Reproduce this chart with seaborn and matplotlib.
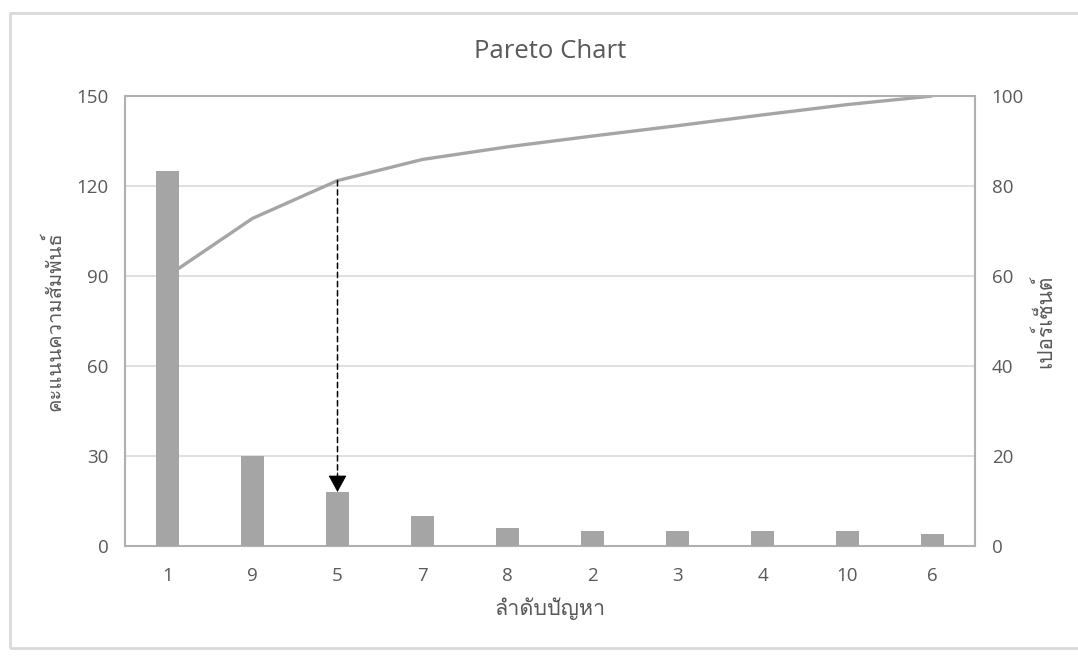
import numpy as np
import matplotlib
matplotlib.use("Agg")
import matplotlib.pyplot as plt
from matplotlib import font_manager
from matplotlib.ft2font import FT2Font
from matplotlib.patches import Rectangle
import seaborn as sns

# Problem ranks in Pareto order
categories = ["1", "9", "5", "7", "8", "2", "3", "4", "10", "6"]
# Relationship score per problem (left axis)
scores = [125, 30, 18, 10, 6, 5, 5, 5, 5, 4]
# Cumulative percentage (right axis)
cum_pct = [60, 72.8, 81.2, 85.9, 88.7, 91.1, 93.4, 95.8, 98.1, 100]
left_ticks = [0, 30, 60, 90, 120, 150]
right_ticks = [0, 20, 40, 60, 80, 100]

title = "Pareto Chart"
xlabel = "ลำดับปัญหา"
ylabel_left = "คะแนนความสัมพันธ์"
ylabel_right = "เปอร์เซ็นต์"

BAR = "#a5a5a5"
TEXT = "#595959"
GRID = "#d9d9d9"
FRAME = "#b0b0b0"


def thai_family():
    """Return the name of an installed family that covers Thai script."""
    for f in font_manager.fontManager.ttflist:
        try:
            cmap = FT2Font(f.fname).get_charmap()
        except Exception:
            continue
        if all(cp in cmap for cp in (0x0E01, 0x0E33, 0x0E31, 0x0E4C)):
            return f.name
    return None


sns.set_style("white")
base = "Open Sans"
thai = thai_family()
families = [base, thai] if thai else [base, "DejaVu Sans"]
plt.rcParams["font.family"] = families

W, H = 1078, 657
fig = plt.figure(figsize=(W / 100, H / 100), dpi=100)
fig.patch.set_facecolor("white")

# plot area in pixel terms
L, R, T, B = 125, 975, 96, 546
ax2 = fig.add_axes([L / W, 1 - B / H, (R - L) / W, (B - T) / H])
ax = ax2.twinx()  # same frame; bars axis placed above the line axis
ax.yaxis.tick_left()
ax.yaxis.set_label_position("left")
ax2.yaxis.tick_right()
ax2.yaxis.set_label_position("right")
ax.set_zorder(ax2.get_zorder() + 1)
ax.patch.set_visible(False)
ax2.patch.set_facecolor("white")

# cumulative line (drawn beneath the bars)
positions = np.arange(len(categories))
sns.lineplot(x=positions, y=cum_pct, ax=ax2, color=BAR, linewidth=2.4,
             solid_capstyle="butt")

# bars
sns.barplot(x=categories, y=scores, order=categories, color=BAR,
            saturation=1, width=0.26, linewidth=0, ax=ax)

ax.set_xlim(-0.5, len(categories) - 0.5)
ax2.set_xlim(-0.5, len(categories) - 0.5)
ax.set_ylim(0, 150)
ax2.set_ylim(0, 100)
ax.set_yticks(left_ticks)
ax2.set_yticks(right_ticks)
ax2.set_xticks(positions)
ax2.set_xticklabels(categories)
ax.tick_params(axis="x", which="both", bottom=False, labelbottom=False)

# gridlines on the lower axis so they sit under line and bars
ax2.grid(axis="y", color=GRID, linewidth=1.2)
ax2.set_axisbelow(True)
ax.grid(False)

for a in (ax, ax2):
    for s in a.spines.values():
        s.set_visible(False)
for s in ax2.spines.values():
    s.set_visible(True)
    s.set_color(FRAME)
    s.set_linewidth(1.5)

ax.tick_params(axis="y", length=0, pad=12, labelsize=13.5, labelcolor=TEXT)
ax2.tick_params(axis="y", length=0, pad=12, labelsize=13.5, labelcolor=TEXT)
ax2.tick_params(axis="x", length=0, pad=15, labelsize=13.5, labelcolor=TEXT)

ax.set_xlabel("")
ax.set_ylabel(ylabel_left, fontsize=14.5, color=TEXT, labelpad=8)
ax2.set_ylabel(ylabel_right, fontsize=15, color=TEXT, labelpad=7)
ax2.set_xlabel(xlabel, fontsize=15.5, color=TEXT, labelpad=9)

fig.text((L + R) / 2 / W, 1 - 52 / H, title, ha="center", va="center",
         fontsize=18.5, color=TEXT)

# dashed leader from the cumulative point down to its bar, then a solid head
k = categories.index("5")
ax.annotate("", xy=(k, scores[k]), xycoords="data",
            xytext=(k, cum_pct[k]), textcoords=ax2.transData,
            arrowprops=dict(arrowstyle="-", linestyle=(0, (3.5, 2.5)),
                            color="black", lw=1.1, shrinkA=0, shrinkB=8))
ax.annotate("", xy=(k, scores[k]), xycoords="data",
            xytext=(0, 14), textcoords="offset points",
            arrowprops=dict(arrowstyle="-|>,head_length=0.55,head_width=0.3",
                            color="black", lw=0.5, shrinkA=0, shrinkB=0,
                            mutation_scale=20))

# outer chart frame
fig.patches.append(Rectangle((10 / W, 1 - 648 / H), 1.2, (648 - 13) / H,
                             transform=fig.transFigure, fill=False,
                             edgecolor="#d9d9d9", linewidth=2, clip_on=False))

fig.savefig("out.png", dpi=100, facecolor="white")
